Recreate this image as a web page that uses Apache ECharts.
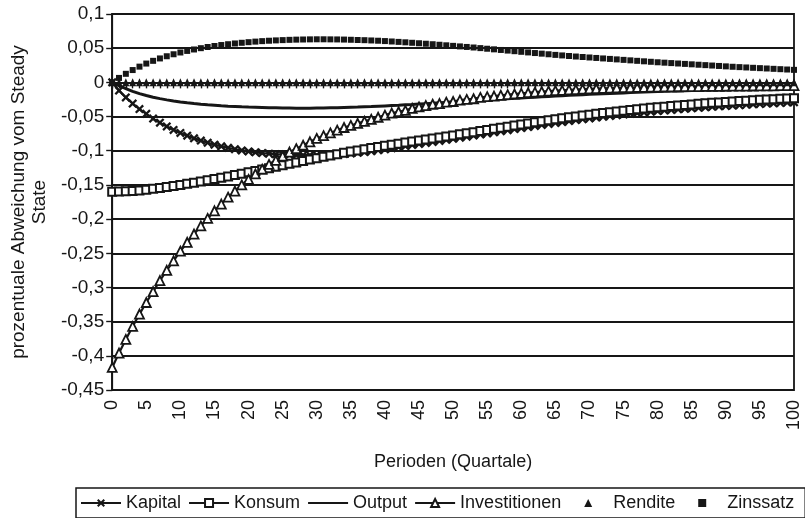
<!DOCTYPE html>
<html><head><meta charset="utf-8">
<script src="https://cdn.jsdelivr.net/npm/echarts@6/dist/echarts.min.js"></script>
<style>html,body{margin:0;padding:0;background:#fff}#c{width:805px;height:518px}</style>
</head><body><div id="c"></div>
<script>
const perioden = [0,1,2,3,4,5,6,7,8,9,10,11,12,13,14,15,16,17,18,19,20,21,22,23,24,25,26,27,28,29,30,31,32,33,34,35,36,37,38,39,40,41,42,43,44,45,46,47,48,49,50,51,52,53,54,55,56,57,58,59,60,61,62,63,64,65,66,67,68,69,70,71,72,73,74,75,76,77,78,79,80,81,82,83,84,85,86,87,88,89,90,91,92,93,94,95,96,97,98,99,100];

const kapital = [0,-0.012,-0.022,-0.031,-0.039,-0.046,-0.053,-0.059,-0.0645,-0.0695,-0.074,-0.078,-0.0818,-0.0852,-0.0883,-0.0911,-0.0936,-0.0958,-0.0978,-0.0995,-0.101,-0.1023,-0.1034,-0.1043,-0.105,-0.1056,-0.106,-0.1063,-0.1065,-0.1065,-0.1064,-0.1062,-0.1058,-0.1053,-0.1047,-0.104,-0.1031,-0.102,-0.1007,-0.0993,-0.0979,-0.0963,-0.0947,-0.0931,-0.0916,-0.0901,-0.0886,-0.0871,-0.0856,-0.0841,-0.0826,-0.081,-0.0794,-0.0778,-0.0762,-0.0747,-0.0731,-0.0715,-0.07,-0.0684,-0.0668,-0.0653,-0.0638,-0.0623,-0.0608,-0.0594,-0.058,-0.0566,-0.0552,-0.0539,-0.0527,-0.0515,-0.0503,-0.0491,-0.048,-0.0469,-0.0459,-0.0449,-0.0439,-0.0429,-0.042,-0.0411,-0.0403,-0.0395,-0.0387,-0.0379,-0.0372,-0.0365,-0.0358,-0.0351,-0.0345,-0.0339,-0.0333,-0.0327,-0.0321,-0.0316,-0.0311,-0.0306,-0.0301,-0.0296,-0.0291];

const konsum = [-0.16,-0.1598,-0.1594,-0.1588,-0.158,-0.157,-0.1558,-0.1545,-0.1531,-0.1516,-0.15,-0.1484,-0.1467,-0.145,-0.1432,-0.1414,-0.1395,-0.1376,-0.1356,-0.1336,-0.1316,-0.1296,-0.1276,-0.1255,-0.1234,-0.1213,-0.1192,-0.1171,-0.115,-0.1129,-0.1109,-0.1089,-0.1069,-0.105,-0.1031,-0.1012,-0.0995,-0.0978,-0.0961,-0.0945,-0.0929,-0.0913,-0.0897,-0.0881,-0.0866,-0.0851,-0.0836,-0.0821,-0.0806,-0.0791,-0.0776,-0.076,-0.0744,-0.0728,-0.0712,-0.0696,-0.068,-0.0664,-0.0648,-0.0632,-0.0616,-0.06,-0.0585,-0.057,-0.0555,-0.054,-0.0526,-0.0512,-0.0498,-0.0485,-0.0472,-0.046,-0.0448,-0.0436,-0.0425,-0.0414,-0.0403,-0.0393,-0.0383,-0.0373,-0.0364,-0.0355,-0.0346,-0.0338,-0.033,-0.0322,-0.0314,-0.0307,-0.03,-0.0293,-0.0286,-0.028,-0.0274,-0.0268,-0.0262,-0.0256,-0.0251,-0.0246,-0.0241,-0.0236,-0.0231];

const output = [0,-0.0048,-0.0092,-0.0132,-0.0165,-0.0193,-0.0217,-0.0238,-0.0256,-0.0272,-0.0286,-0.0298,-0.0309,-0.0319,-0.0328,-0.0335,-0.0342,-0.0348,-0.0353,-0.0358,-0.0362,-0.0365,-0.0368,-0.0371,-0.0373,-0.0375,-0.0376,-0.0377,-0.0377,-0.0377,-0.0376,-0.0375,-0.0373,-0.0371,-0.0368,-0.0365,-0.0362,-0.0358,-0.0354,-0.0349,-0.0344,-0.0339,-0.0334,-0.0328,-0.0323,-0.0317,-0.0311,-0.0305,-0.0299,-0.0293,-0.0287,-0.0281,-0.0275,-0.0269,-0.0263,-0.0257,-0.0251,-0.0245,-0.0239,-0.0233,-0.0227,-0.0221,-0.0216,-0.021,-0.0205,-0.02,-0.0195,-0.019,-0.0185,-0.018,-0.0175,-0.0171,-0.0166,-0.0162,-0.0158,-0.0154,-0.015,-0.0146,-0.0142,-0.0138,-0.0135,-0.0131,-0.0128,-0.0125,-0.0122,-0.0119,-0.0116,-0.0113,-0.011,-0.0107,-0.0105,-0.0102,-0.01,-0.0097,-0.0095,-0.0093,-0.0091,-0.0089,-0.0087,-0.0085,-0.0083];

const investitionen = [-0.417,-0.396,-0.376,-0.357,-0.339,-0.322,-0.306,-0.29,-0.275,-0.261,-0.247,-0.234,-0.222,-0.21,-0.199,-0.188,-0.178,-0.168,-0.159,-0.15,-0.142,-0.134,-0.127,-0.12,-0.114,-0.108,-0.102,-0.097,-0.092,-0.087,-0.082,-0.078,-0.074,-0.07,-0.066,-0.063,-0.06,-0.057,-0.054,-0.051,-0.048,-0.045,-0.043,-0.041,-0.038,-0.036,-0.034,-0.032,-0.031,-0.029,-0.028,-0.026,-0.025,-0.024,-0.022,-0.021,-0.02,-0.019,-0.018,-0.017,-0.016,-0.0152,-0.0144,-0.0136,-0.0129,-0.0122,-0.0116,-0.011,-0.0105,-0.01,-0.0096,-0.0092,-0.0088,-0.0085,-0.0082,-0.0079,-0.0077,-0.0075,-0.0073,-0.0071,-0.0069,-0.0067,-0.0066,-0.0064,-0.0063,-0.0062,-0.0061,-0.006,-0.0059,-0.0058,-0.0057,-0.0056,-0.0055,-0.0054,-0.0053,-0.0052,-0.0051,-0.005,-0.0049,-0.0048,-0.0047];

const rendite = [0,0,0,0,0,0,0,0,0,0,0,0,0,0,0,0,0,0,0,0,0,0,0,0,0,0,0,0,0,0,0,0,0,0,0,0,0,0,0,0,0,0,0,0,0,0,0,0,0,0,0,0,0,0,0,0,0,0,0,0,0,0,0,0,0,0,0,0,0,0,0,0,0,0,0,0,0,0,0,0,0,0,0,0,0,0,0,0,0,0,0,0,0,0,0,0,0,0,0,0,0];

const zinssatz = [0,0.0065,0.0125,0.018,0.023,0.0275,0.0315,0.035,0.0382,0.0411,0.0437,0.046,0.0481,0.05,0.0517,0.0532,0.0546,0.0558,0.0569,0.0579,0.0588,0.0596,0.0603,0.0609,0.0614,0.0618,0.0622,0.0625,0.0627,0.0629,0.063,0.063,0.0629,0.0628,0.0626,0.0623,0.062,0.0617,0.0613,0.0609,0.0604,0.0598,0.0592,0.0586,0.0579,0.0572,0.0565,0.0558,0.055,0.0542,0.0534,0.0526,0.0518,0.051,0.0501,0.0492,0.0483,0.0474,0.0465,0.0456,0.0447,0.0438,0.0429,0.042,0.0411,0.0402,0.0394,0.0386,0.0378,0.0371,0.0364,0.0357,0.035,0.0343,0.0336,0.0329,0.0322,0.0315,0.0308,0.0301,0.0294,0.0288,0.0282,0.0276,0.027,0.0264,0.0258,0.0252,0.0246,0.024,0.0234,0.0228,0.0223,0.0218,0.0213,0.0208,0.0203,0.0198,0.0193,0.0188,0.0183];

const yMin = -0.45, yMax = 0.1, yStep = 0.05;
const ink = '#161616';
const font = 'Liberation Sans';
const xMark = 'path://M0,1.8L1.8,0L5,3.2L8.2,0L10,1.8L6.8,5L10,8.2L8.2,10L5,6.8L1.8,10L0,8.2L3.2,5Z';

const chart = echarts.init(document.getElementById('c'), null, {renderer: 'canvas'});
chart.setOption({
  animation: false,
  backgroundColor: '#fff',
  textStyle: {fontFamily: font, color: ink},
  grid: {left: 107, right: 11, top: 14, bottom: 128, show: true, borderColor: ink, borderWidth: 1.8, backgroundColor: 'transparent'},
  xAxis: {
    type: 'category', data: perioden, boundaryGap: false,
    name: 'Perioden (Quartale)', nameLocation: 'middle', nameGap: 63,
    nameTextStyle: {fontFamily: font, fontSize: 18, color: ink},
    axisLine: {lineStyle: {color: ink, width: 1.8}},
    axisTick: {interval: 0, length: 6, lineStyle: {color: ink, width: 1.4}},
    axisLabel: {interval: 4, rotate: 90, margin: 10, fontFamily: font, fontSize: 18, color: ink},
    splitLine: {show: false}
  },
  yAxis: {
    type: 'value', min: yMin, max: yMax, interval: yStep,
    name: 'prozentuale Abweichung vom Steady\nState', nameLocation: 'middle', nameGap: 58,
    nameTextStyle: {fontFamily: font, fontSize: 19, lineHeight: 21, color: ink, align: 'center'},
    axisLine: {show: true, lineStyle: {color: ink, width: 1.8}},
    axisTick: {show: true, length: 6, lineStyle: {color: ink, width: 1.4}},
    axisLabel: {margin: 8, fontFamily: font, fontSize: 19, color: ink,
      formatter: v => String(Math.round(v * 100) / 100).replace('.', ',')},
    splitLine: {show: true, lineStyle: {color: ink, width: 1.8}}
  },
  legend: {
    left: 76, top: 488, padding: [6, 11, 6, 4], itemGap: 7, itemWidth: 40, itemHeight: 10,
    borderColor: ink, borderWidth: 1.5, borderRadius: 0,
    textStyle: {fontFamily: font, fontSize: 18, color: ink},
    data: ['Kapital', 'Konsum', {name: 'Output', itemStyle: {opacity: 0}}, 'Investitionen',
      {name: 'Rendite', lineStyle: {opacity: 0, width: 0}}, {name: 'Zinssatz', lineStyle: {opacity: 0, width: 0}}]
  },
  series: [
    {name: 'Kapital', type: 'line', data: kapital, symbol: xMark, symbolSize: 9, showAllSymbol: true,
      lineStyle: {color: ink, width: 2.2}, itemStyle: {color: ink}},
    {name: 'Konsum', type: 'line', data: konsum, symbol: 'rect', symbolSize: 8, showAllSymbol: true,
      lineStyle: {color: ink, width: 2.2}, itemStyle: {color: '#fff', borderColor: ink, borderWidth: 2}},
    {name: 'Output', type: 'line', data: output, symbol: 'none',
      lineStyle: {color: ink, width: 3}, itemStyle: {color: ink}},
    {name: 'Investitionen', type: 'line', data: investitionen, symbol: 'triangle', symbolSize: 9, showAllSymbol: true,
      lineStyle: {color: ink, width: 2.2}, itemStyle: {color: '#fff', borderColor: ink, borderWidth: 1.8}},
    {name: 'Rendite', type: 'line', data: rendite, symbol: 'triangle', symbolSize: [7, 8], showAllSymbol: true,
      lineStyle: {width: 0, opacity: 0}, itemStyle: {color: ink}},
    {name: 'Zinssatz', type: 'line', data: zinssatz, symbol: 'rect', symbolSize: 6, showAllSymbol: true,
      lineStyle: {width: 0, opacity: 0}, itemStyle: {color: ink}}
  ]
});
</script>
</body></html>
